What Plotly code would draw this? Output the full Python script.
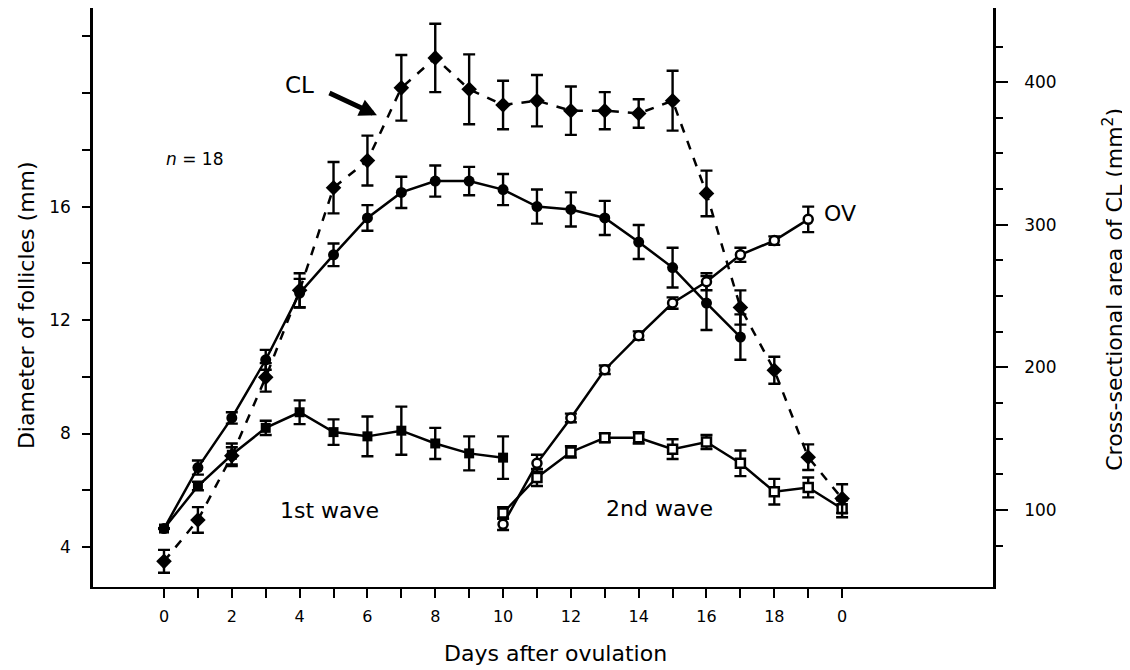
import plotly.graph_objects as go

# ---------------- data ----------------
days_dom1 = list(range(0, 18))
dom1 = [4.65, 6.8, 8.55, 10.6, 12.95, 14.3, 15.6, 16.5, 16.9, 16.9, 16.6, 16.0, 15.9, 15.6, 14.75, 13.85, 12.6, 11.4]
dom1_err = [0, 0.25, 0.2, 0.35, 0.5, 0.4, 0.45, 0.55, 0.55, 0.5, 0.55, 0.6, 0.6, 0.6, 0.6, 0.7, 0.95, 0.8]

days_sub1 = list(range(0, 11))
sub1 = [4.65, 6.15, 7.25, 8.2, 8.75, 8.05, 7.9, 8.1, 7.65, 7.3, 7.15]
sub1_err = [0, 0.15, 0.4, 0.25, 0.42, 0.45, 0.7, 0.85, 0.55, 0.6, 0.75]

days_ov = list(range(10, 20))
ov = [4.8, 6.95, 8.55, 10.25, 11.45, 12.6, 13.35, 14.3, 14.8, 15.55]
ov_err = [0.2, 0.3, 0.15, 0.15, 0.15, 0.2, 0.3, 0.25, 0.15, 0.45]

days_sub2 = list(range(10, 21))
sub2 = [5.2, 6.45, 7.35, 7.85, 7.85, 7.45, 7.7, 6.95, 5.95, 6.1, 5.35]
sub2_err = [0.2, 0.3, 0.2, 0.15, 0.2, 0.35, 0.25, 0.45, 0.45, 0.35, 0.3]

days_cl = list(range(0, 21))
cl = [64, 93, 138, 193, 254, 326, 345, 396, 417, 395, 384, 387, 380, 380, 378, 387, 322, 242, 198, 137, 108]
cl_err = [8, 9, 6, 10, 12, 18, 17.5, 23, 24, 24.5, 17, 18, 17, 13, 10, 21, 16, 12, 9.5, 9, 10]

x_tickvals = list(range(0, 21))
x_ticktext = ["0" if d == 20 else (str(d) if d % 2 == 0 else "") for d in x_tickvals]
y_tickvals = [4, 6, 8, 10, 12, 14, 16, 18, 20, 22]
y_ticktext = ["4", "", "8", "", "12", "", "16", "", "", ""]
y2_tickvals = [100, 200, 300, 400]
y2_minorvals = [75, 125, 150, 175, 225, 250, 275, 325, 350, 375, 425]

FONT = "DejaVu Sans, sans-serif"

fig = go.Figure()


def errs(arr):
    return dict(type="data", array=arr, color="black", thickness=2.4, width=6, visible=True)


# CL (right axis), dashed
fig.add_trace(go.Scatter(
    x=days_cl, y=cl, yaxis="y2", mode="lines+markers",
    line=dict(color="black", width=2.5, dash="dash"),
    marker=dict(symbol="diamond", size=12, color="black"),
    error_y=errs(cl_err), name="CL"))

# 1st wave subordinate (filled squares)
fig.add_trace(go.Scatter(
    x=days_sub1, y=sub1, mode="lines+markers",
    line=dict(color="black", width=2.5),
    marker=dict(symbol="square", size=10, color="black"),
    error_y=errs(sub1_err), name="sub1"))

# 1st wave dominant (filled circles)
fig.add_trace(go.Scatter(
    x=days_dom1, y=dom1, mode="lines+markers",
    line=dict(color="black", width=2.5),
    marker=dict(symbol="circle", size=11, color="black"),
    error_y=errs(dom1_err), name="dom1"))

# 2nd wave subordinate (open squares)
fig.add_trace(go.Scatter(
    x=days_sub2, y=sub2, mode="lines+markers",
    line=dict(color="black", width=2.5),
    marker=dict(symbol="square", size=9, color="white", line=dict(color="black", width=2.5)),
    error_y=errs(sub2_err), name="sub2"))

# OV (open circles)
fig.add_trace(go.Scatter(
    x=days_ov, y=ov, mode="lines+markers",
    line=dict(color="black", width=2.5),
    marker=dict(symbol="circle", size=9, color="white", line=dict(color="black", width=2.5)),
    error_y=errs(ov_err), name="OV"))

# page body has an 8px margin, so the figure is 8px smaller and margins shifted
fig.update_layout(
    width=1122, height=662,
    margin=dict(l=85, r=137, t=0, b=83, autoexpand=False),
    plot_bgcolor="white", paper_bgcolor="white",
    showlegend=False,
    font=dict(family=FONT, color="black", size=14),
    xaxis=dict(
        range=[-2.094, 24.45], tickmode="array", tickvals=x_tickvals, ticktext=x_ticktext,
        ticks="outside", ticklen=9, tickwidth=2.2, tickcolor="black",
        showline=True, linewidth=2.2, linecolor="black",
        showgrid=False, zeroline=False, ticklabelstandoff=5,
        tickfont=dict(size=16, family=FONT),
    ),
    yaxis=dict(
        range=[2.59, 23.0], tickmode="array", tickvals=y_tickvals, ticktext=y_ticktext,
        ticks="outside", ticklen=8, tickwidth=2.2, tickcolor="black",
        showline=True, linewidth=2.6, linecolor="black",
        showgrid=False, zeroline=False, ticklabelstandoff=8,
        tickfont=dict(size=17, family=FONT),
    ),
    yaxis2=dict(
        overlaying="y", side="right", anchor="x",
        range=[46, 452], tickmode="array", tickvals=y2_tickvals,
        ticks="outside", ticklen=12, tickwidth=2.2, tickcolor="black",
        minor=dict(tickmode="array", tickvals=y2_minorvals, ticks="outside", ticklen=7,
                   tickwidth=2.2, tickcolor="black", showgrid=False),
        showline=True, linewidth=2.6, linecolor="black",
        showgrid=False, zeroline=False, ticklabelstandoff=13,
        tickfont=dict(size=17, family=FONT),
    ),
)

title_font = dict(family=FONT, size=22, color="black")
ann_font = dict(family=FONT, size=22, color="black")
fig.add_annotation(text="Diameter of follicles (mm)", xref="paper", yref="paper",
                   x=-0.0744, y=0.487, xanchor="center", yanchor="middle",
                   textangle=-90, showarrow=False, font=title_font)
fig.add_annotation(text="Cross-sectional area of CL (mm<sup>2</sup>)", xref="paper", yref="paper",
                   x=1.1333, y=0.515, xanchor="center", yanchor="middle",
                   textangle=-90, showarrow=False, font=title_font)
fig.add_annotation(text="Days after ovulation", xref="paper", yref="paper",
                   x=0.514, y=-0.1157, xanchor="center", yanchor="middle",
                   showarrow=False, font=title_font)

fig.add_annotation(text="CL", xref="x", yref="y", x=4.01, y=20.28, showarrow=False,
                   font=dict(family=FONT, size=23, color="black"))
fig.add_annotation(text="", xref="x", yref="y", x=6.28, y=19.22, ax=-49, ay=-23,
                   showarrow=True, arrowhead=2, arrowwidth=5, arrowsize=0.7, arrowcolor="black")
fig.add_annotation(text="<i>n</i> = 18", xref="x", yref="y", x=0.91, y=17.67, showarrow=False,
                   font=dict(family=FONT, size=17, color="black"))
fig.add_annotation(text="OV", xref="x", yref="y", x=19.94, y=15.77, showarrow=False, font=ann_font)
fig.add_annotation(text="1st wave", xref="x", yref="y", x=4.87, y=5.27, showarrow=False, font=ann_font)
fig.add_annotation(text="2nd wave", xref="x", yref="y", x=14.6, y=5.37, showarrow=False, font=ann_font)

fig.write_html("out.html")
